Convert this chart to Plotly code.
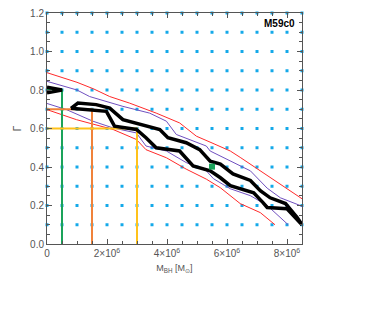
import plotly.graph_objects as go

# Grid of sampled models (x in units of 1e6 Msun)
grid_x = [i * 0.5 for i in range(18)]
grid_y = [round(0.1 * j, 1) for j in range(1, 13)]

# Contour-like curves (x in 1e6 Msun, Gamma)
r1_x = [0, 1.0, 1.55, 2.09, 2.75, 3.64, 4.42, 4.98, 5.5, 6.11, 6.44, 7.11, 7.67, 8.44, 8.5]
r1_y = [0.89, 0.84, 0.806, 0.766, 0.732, 0.68, 0.629, 0.56, 0.525, 0.483, 0.45, 0.38, 0.32, 0.242, 0.235]
p1_x = [0, 1.0, 1.42, 2.53, 3.42, 3.98, 4.31, 4.75, 5.31, 5.44, 6.11, 6.78, 7.34, 7.78, 8.44, 8.5]
p1_y = [0.845, 0.80, 0.766, 0.715, 0.68, 0.638, 0.569, 0.543, 0.509, 0.483, 0.43, 0.38, 0.29, 0.24, 0.2, 0.195]
b1_x = [0.8, 1.03, 1.64, 2.09, 2.53, 3.42, 3.76, 4.03, 4.64, 5.09, 5.44, 5.78, 6.2, 6.78, 7.11, 7.44, 7.95, 8.34, 8.5]
b1_y = [0.705, 0.732, 0.724, 0.706, 0.646, 0.612, 0.595, 0.552, 0.526, 0.49, 0.43, 0.415, 0.364, 0.33, 0.277, 0.24, 0.21, 0.137, 0.1]
b2_x = [0.8, 1.98, 2.25, 2.98, 3.3, 3.64, 4.42, 4.87, 5.44, 5.78, 6.11, 6.44, 6.89, 7.2, 7.34, 8.0, 8.2, 8.5]
b2_y = [0.705, 0.689, 0.612, 0.595, 0.552, 0.5, 0.483, 0.406, 0.38, 0.344, 0.303, 0.287, 0.266, 0.215, 0.19, 0.183, 0.148, 0.1]
p2_x = [0, 0.65, 1.53, 2.2, 2.98, 3.3, 3.98, 4.64, 5.31, 5.55, 6.11, 6.78, 7.34, 7.78, 8.04]
p2_y = [0.73, 0.698, 0.638, 0.603, 0.577, 0.509, 0.483, 0.423, 0.38, 0.339, 0.287, 0.251, 0.2, 0.138, 0.1]
r2_x = [0, 0.98, 2.2, 2.98, 3.3, 3.98, 4.64, 5.31, 5.78, 6.44, 7.11, 7.6]
r2_y = [0.698, 0.646, 0.595, 0.543, 0.49, 0.448, 0.389, 0.337, 0.292, 0.21, 0.163, 0.1]
wedge_x = [0, 0.5, 0]
wedge_y = [0.815, 0.80, 0.785]

# Guide lines (Mbh, Gamma)
guide_mbh = [0.5, 1.5, 3.0]
guide_gamma = [0.8, 0.7, 0.6]
guide_colors = ["#1aa35a", "#f0823a", "#ffc21a"]

best_x = [5.5]
best_y = [0.402]

xtick_vals = [0, 2, 4, 6, 8]
xtick_text = ["0", "2×10<sup>6</sup>", "4×10<sup>6</sup>", "6×10<sup>6</sup>", "8×10<sup>6</sup>"]
ytick_vals = [0.0, 0.2, 0.4, 0.6, 0.8, 1.0, 1.2]
ytick_text = ["0.0", "0.2", "0.4", "0.6", "0.8", "1.0", "1.2"]

s = 1e6
fig = go.Figure()

gx, gy = [], []
for yv in grid_y:
    for xv in grid_x:
        gx.append(xv * s)
        gy.append(yv)
fig.add_trace(go.Scatter(x=gx, y=gy, mode="markers",
                         marker=dict(symbol="square", size=3, color="#14a9e9", line=dict(width=0)),
                         cliponaxis=False))

def line(xs, ys, color, width):
    fig.add_trace(go.Scatter(x=[v * s for v in xs], y=ys, mode="lines",
                             line=dict(color=color, width=width)))

line(r1_x, r1_y, "#ff2a2a", 1)
line(r2_x, r2_y, "#ff2a2a", 1)
line(p1_x, p1_y, "#7050c0", 1)
line(p2_x, p2_y, "#7050c0", 1)

for m, g, c in zip(guide_mbh, guide_gamma, guide_colors):
    fig.add_trace(go.Scatter(x=[0, m * s, m * s], y=[g, g, 0], mode="lines",
                             line=dict(color=c, width=2)))

line(b1_x, b1_y, "black", 3.5)
line(b2_x, b2_y, "black", 3.5)
line(wedge_x, wedge_y, "black", 3.5)

fig.add_trace(go.Scatter(x=[v * s for v in best_x], y=best_y, mode="markers",
                         marker=dict(symbol="square", size=6, color="#1aa35a", line=dict(width=0))))

font_fam = "Liberation Sans, Arial"
axis_common = dict(showgrid=False, zeroline=False, showline=True, linecolor="#555", linewidth=1,
                   mirror="ticks", ticks="inside", tickcolor="#555", ticklen=5,
                   ticklabeloverflow="allow",
                   tickfont=dict(family=font_fam, size=10, color="#555"), automargin=False)

fig.update_layout(
    width=363, height=304,
    margin=dict(l=39, r=69, t=5, b=68),
    paper_bgcolor="white", plot_bgcolor="white",
    showlegend=False,
    xaxis=dict(range=[0, 8.5e6], tickvals=[v * s for v in xtick_vals], ticktext=xtick_text,
               minor=dict(ticks="inside", ticklen=3, dtick=0.5e6, tickcolor="#555"),
               title=dict(text="M<sub>BH</sub> [M<sub>⊙</sub>]", font=dict(family=font_fam, size=9, color="#555"), standoff=6),
               **axis_common),
    yaxis=dict(range=[0, 1.2], tickvals=ytick_vals, ticktext=ytick_text,
               minor=dict(ticks="inside", ticklen=3, dtick=0.05, tickcolor="#555"),
               title=dict(text="Γ", font=dict(family=font_fam, size=10, color="#555"), standoff=6),
               **axis_common),
    annotations=[dict(text="<b>M59c0</b>", x=0.982, y=0.955, xref="paper", yref="paper",
                      xanchor="right", yanchor="middle", showarrow=False,
                      font=dict(family=font_fam, size=10, color="black"))],
)

fig.write_html("out.html")
